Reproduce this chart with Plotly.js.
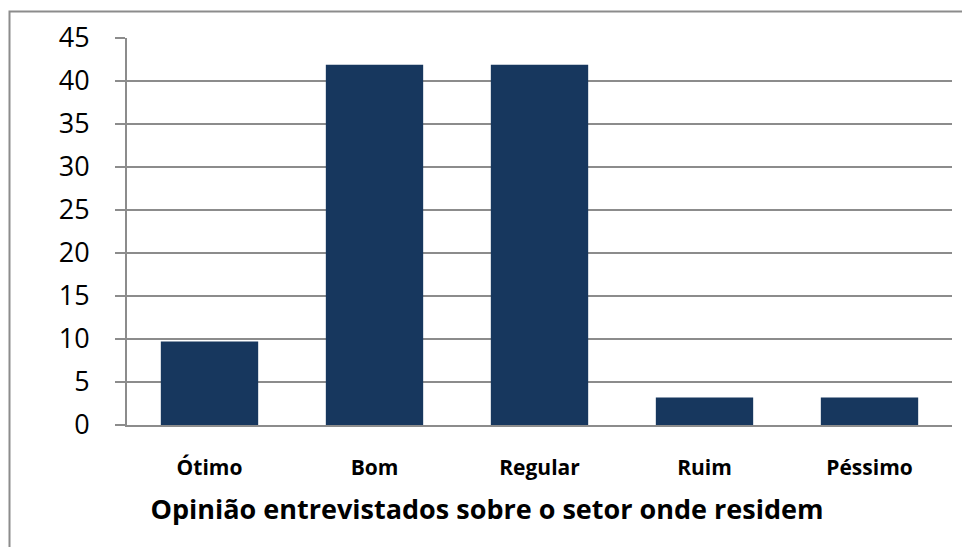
<!DOCTYPE html>
<html>
<head>
<meta charset="utf-8">
<script src="https://cdn.plot.ly/plotly-3.0.1.min.js"></script>
<style>html,body{margin:0;padding:0;background:#fff;}#chart{width:962px;height:547px;}</style>
</head>
<body>
<div id="chart"></div>
<script>
const categories = ["Ótimo", "Bom", "Regular", "Ruim", "Péssimo"];
const values = [9.7, 41.9, 41.9, 3.2, 3.2];
const yTicks = [0, 5, 10, 15, 20, 25, 30, 35, 40, 45];
const chartTitle = "Opinião entrevistados sobre o setor onde residem";

const W = 962, H = 547;
const m = {l: 127, r: 10, t: 38, b: 122};
const pw = W - m.l - m.r, ph = H - m.t - m.b;
const px = x => (x - m.l) / pw;
const py = y => (H - m.b - y) / ph;

const data = [{
  type: 'bar',
  x: categories,
  y: values,
  marker: {color: '#17375e', line: {width: 0}},
  hoverinfo: 'x+y'
}];

const layout = {
  width: W, height: H,
  margin: m,
  paper_bgcolor: '#ffffff',
  plot_bgcolor: '#ffffff',
  bargap: 0.41,
  showlegend: false,
  font: {family: 'Open Sans, Lato, sans-serif', color: '#000'},
  title: {
    text: '<b>' + chartTitle + '</b>',
    font: {family: 'Open Sans, sans-serif', size: 27, color: '#000'},
    x: 487 / W, xanchor: 'center', xref: 'container',
    y: 1 - 510 / H, yanchor: 'middle', yref: 'container'
  },
  xaxis: {
    type: 'category',
    showgrid: false,
    showline: true, linecolor: '#8c8c8c', linewidth: 2,
    ticks: '',
    tickfont: {family: 'Open Sans, sans-serif', size: 21, color: '#000', weight: 'bold'},
    ticklabelstandoff: 23,
    zeroline: false
  },
  yaxis: {
    range: [0, 45],
    tickvals: yTicks,
    ticktext: yTicks.map(String),
    showgrid: true, gridcolor: '#8c8c8c', gridwidth: 2,
    showline: true, linecolor: '#8c8c8c', linewidth: 2,
    ticks: 'outside', ticklen: 10, tickwidth: 2, tickcolor: '#8c8c8c',
    tickfont: {family: 'Open Sans, sans-serif', size: 27, color: '#000'},
    ticklabelstandoff: 20,
    zeroline: false
  },
  shapes: [{
    type: 'rect', xref: 'paper', yref: 'paper',
    x0: px(9.5), x1: px(W + 20), y0: py(H + 20), y1: py(11.5),
    line: {color: '#8c8c8c', width: 2}, fillcolor: 'rgba(0,0,0,0)', layer: 'above'
  }]
};

Plotly.newPlot('chart', data, layout, {displayModeBar: false, staticPlot: true});
</script>
</body>
</html>
